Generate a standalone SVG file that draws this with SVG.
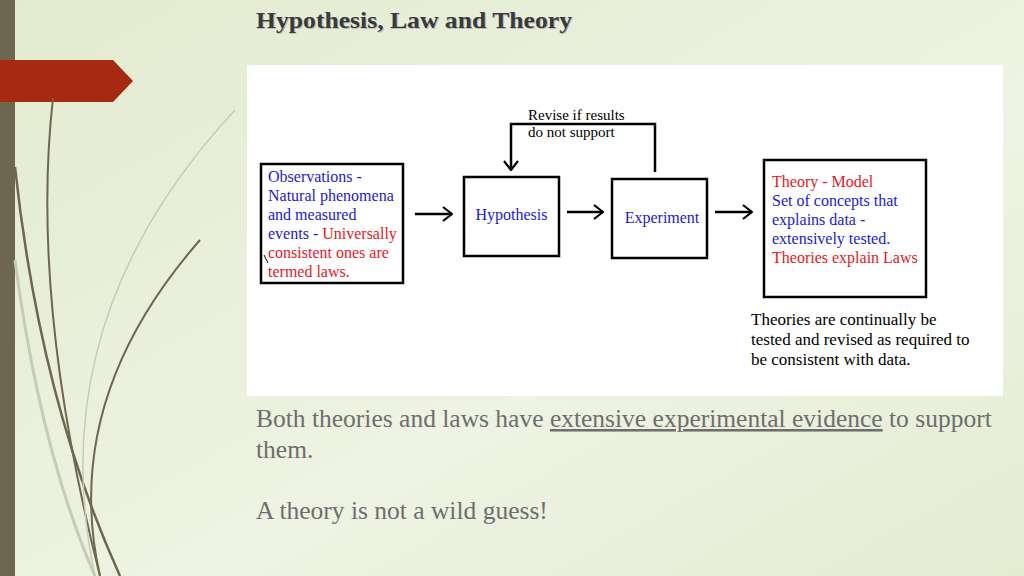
<svg xmlns="http://www.w3.org/2000/svg" width="1024" height="576" viewBox="0 0 1024 576">
<defs>
<linearGradient id="bg" x1="0" y1="0" x2="1" y2="1"><stop offset="0" stop-color="#e3ebcf"/><stop offset="0.6" stop-color="#eef3e3"/><stop offset="1" stop-color="#e4ecd2"/></linearGradient>
<marker id="ch" viewBox="0 0 12 16" refX="11" refY="8" markerWidth="12" markerHeight="16" markerUnits="userSpaceOnUse" orient="auto"><path d="M2,1 L11,8 L2,15" fill="none" stroke="#000" stroke-width="2.2"/></marker>
<style>
.t{font-family:"Liberation Serif",serif;font-size:16px}
.b{fill:#1a1adc}.r{fill:#e8161c}.k{fill:#000}
.box{fill:none;stroke:#000;stroke-width:2.5}
.con{fill:none;stroke:#000;stroke-width:2.5;marker-end:url(#ch)}
.body{font-family:"Liberation Serif",serif;font-size:25.5px;fill:#6e6e6e}
</style>
</defs>
<rect width="1024" height="576" fill="url(#bg)"/>
<rect x="0" y="0" width="15" height="576" fill="#6f6650"/>
<path d="M0,60 H113 L133,81 L113,102 H0 Z" fill="#a52a11"/>
<g fill="none">
<path d="M53,98 Q30,300 100,576" stroke="#6f6650" stroke-width="2"/>
<path d="M15,167 Q40,400 120,576" stroke="#6f6650" stroke-width="2.5"/>
<path d="M200,240 Q60,400 100,576" stroke="#6f6650" stroke-width="2"/>
<path d="M235,110 Q40,320 95,576" stroke="#c7ccb8" stroke-width="1.5"/>
<path d="M15,260 Q40,450 95,576" stroke="#c7ccb8" stroke-width="3"/>
</g>
<text x="257" y="29" font-family="Liberation Serif,serif" font-size="23" font-weight="bold" fill="#bbb" textLength="316" lengthAdjust="spacingAndGlyphs">Hypothesis, Law and Theory</text>
<text x="256" y="28" font-family="Liberation Serif,serif" font-size="23" font-weight="bold" fill="#3a3a3a" textLength="316" lengthAdjust="spacingAndGlyphs">Hypothesis, Law and Theory</text>
<rect x="247" y="65" width="756" height="331" fill="#fff"/>
<g id="connectors">
<path class="con" d="M415,214 H452"/>
<path class="con" d="M567,212 H603"/>
<path class="con" d="M715,212 H752"/>
<path class="con" d="M655,172 V124 H511 V170"/>
<line x1="264" y1="255" x2="268" y2="263" stroke="#000" stroke-width="1"/>
</g>
<g id="feedback-label" class="t k"><text x="528" y="120" font-size="15">Revise if results</text><text x="528" y="137" font-size="15">do not support</text></g>
<g id="observations">
<rect class="box" x="261" y="164" width="142" height="119"/>
<text class="t b" x="268" y="182">Observations -</text>
<text class="t b" x="268" y="201">Natural phenomena</text>
<text class="t b" x="268" y="220">and measured</text>
<text class="t" x="268" y="239"><tspan class="b">events - </tspan><tspan class="r">Universally</tspan></text>
<text class="t r" x="268" y="258">consistent ones are</text>
<text class="t r" x="268" y="277">termed laws.</text>
</g>
<g id="hypothesis"><rect class="box" x="464" y="177" width="95" height="79"/><text class="t b" x="511.5" y="220" text-anchor="middle">Hypothesis</text></g>
<g id="experiment"><rect class="box" x="612" y="179" width="95" height="79"/><text class="t b" x="662" y="223" text-anchor="middle">Experiment</text></g>
<g id="theory">
<rect class="box" x="764" y="160" width="162" height="137"/>
<text class="t r" x="772" y="187">Theory - Model</text>
<text class="t b" x="772" y="206">Set of concepts that</text>
<text class="t b" x="772" y="225">explains data -</text>
<text class="t b" x="772" y="244">extensively tested.</text>
<text class="t r" x="772" y="263">Theories explain Laws</text>
</g>
<g id="note" class="t k" font-size="17" style="font-size:17px"><text x="751" y="325">Theories are continually be</text><text x="751" y="345">tested and revised as required to</text><text x="751" y="365">be consistent with data.</text></g>
<text class="body" x="256" y="427">Both theories and laws have <tspan text-decoration="underline">extensive experimental evidence</tspan> to support</text>
<text class="body" x="256" y="458">them.</text>
<text class="body" x="256" y="519">A theory is not a wild guess!</text>
</svg>
